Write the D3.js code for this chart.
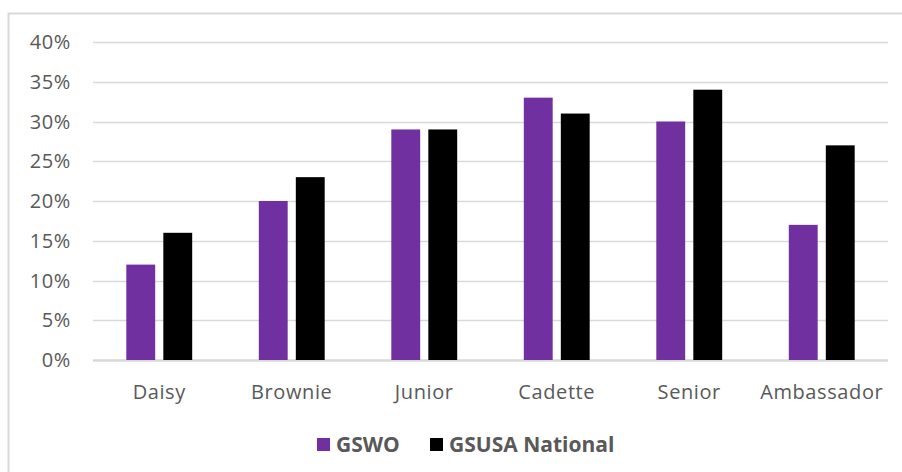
<!DOCTYPE html>
<html>
<head>
<meta charset="utf-8">
<script src="https://cdn.jsdelivr.net/npm/d3@7"></script>
<style>
  body { margin: 0; background: #fff; }
  svg { display: block; }
  text { font-family: "Open Sans", sans-serif; fill: #595959; }
</style>
</head>
<body>
<script>
var w = 902, h = 472;

var categories = ["Daisy", "Brownie", "Junior", "Cadette", "Senior", "Ambassador"];
var seriesNames = ["GSWO", "GSUSA National"];
var gswo = [12, 20, 29, 33, 30, 17];
var national = [16, 23, 29, 31, 34, 27];
var yTicks = [0, 5, 10, 15, 20, 25, 30, 35, 40];
var colors = ["#7030a0", "#000000"];

var margin = {left: 93, right: 14, top: 42, bottom: 112};

var svg = d3.select("body").append("svg")
  .attr("width", w)
  .attr("height", h);

// outer frame
svg.append("rect")
  .attr("x", 8.5).attr("y", 13.5)
  .attr("width", w).attr("height", h)
  .attr("fill", "none")
  .attr("stroke", "#d9d9d9")
  .attr("stroke-width", 2);

var x = d3.scaleBand()
  .domain(categories)
  .range([margin.left, w - margin.right]);

var y = d3.scaleLinear()
  .domain([0, 40])
  .range([h - margin.bottom, margin.top]);

var x1 = d3.scaleBand()
  .domain([0, 1])
  .range([0, x.bandwidth()])
  .paddingInner(0.22)
  .paddingOuter(0.9);

// gridlines
svg.selectAll("line.grid")
  .data(yTicks)
  .enter()
  .append("line")
  .attr("class", "grid")
  .attr("x1", margin.left)
  .attr("x2", w - margin.right)
  .attr("y1", function(d) { return Math.round(y(d)) + 0.5; })
  .attr("y2", function(d) { return Math.round(y(d)) + 0.5; })
  .attr("stroke", "#d9d9d9")
  .attr("stroke-width", function(d) { return d == 0 ? 2.5 : 1.5; });

// y labels
svg.selectAll("text.ylab")
  .data(yTicks)
  .enter()
  .append("text")
  .attr("class", "ylab")
  .attr("x", 71)
  .attr("y", function(d) { return y(d); })
  .attr("dy", "0.35em")
  .attr("text-anchor", "end")
  .attr("font-size", "20px")
  .attr("letter-spacing", "0.6px")
  .text(function(d) { return d + "%"; });

var rows = categories.map(function(c, i) {
  return {cat: c, vals: [gswo[i], national[i]]};
});

var groups = svg.selectAll("g.cat")
  .data(rows)
  .enter()
  .append("g")
  .attr("class", "cat")
  .attr("transform", function(d) { return "translate(" + x(d.cat) + ",0)"; });

groups.selectAll("rect")
  .data(function(d) { return d.vals; })
  .enter()
  .append("rect")
  .attr("x", function(d, i) { return x1(i); })
  .attr("y", function(d) { return y(d); })
  .attr("width", x1.bandwidth())
  .attr("height", function(d) { return y(0) - y(d); })
  .attr("fill", function(d, i) { return colors[i]; });

// category labels
svg.selectAll("text.xlab")
  .data(categories)
  .enter()
  .append("text")
  .attr("class", "xlab")
  .attr("x", function(d) { return x(d) + x.bandwidth() / 2; })
  .attr("y", 399)
  .attr("text-anchor", "middle")
  .attr("font-size", "20px")
  .attr("letter-spacing", "0.6px")
  .text(function(d) { return d; });

// legend
var legendX = [317, 430];
var legend = svg.selectAll("g.legend")
  .data(seriesNames)
  .enter()
  .append("g")
  .attr("class", "legend")
  .attr("transform", function(d, i) { return "translate(" + legendX[i] + ",438)"; });

legend.append("rect")
  .attr("width", 13)
  .attr("height", 13)
  .attr("fill", function(d, i) { return colors[i]; });

legend.append("text")
  .attr("x", 19)
  .attr("y", 14)
  .attr("font-size", "21px")
  .attr("font-weight", "bold")
  .text(function(d) { return d; });
</script>
</body>
</html>
